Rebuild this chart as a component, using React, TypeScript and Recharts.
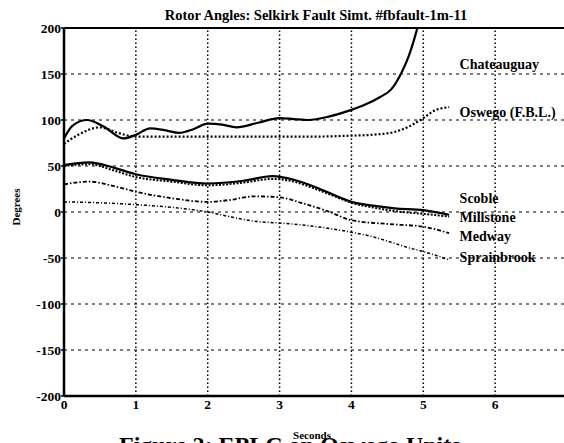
import React from 'react';
import { LineChart, Line, XAxis, YAxis, ReferenceLine, ReferenceDot } from 'recharts';

// time (s) / rotor angle (deg)
const chateauguayT = [0, 0.12, 0.32, 0.55, 0.83, 1.0, 1.2, 1.4, 1.6, 1.8, 2.0, 2.2, 2.4, 2.7, 3.0, 3.2, 3.4, 3.7, 4.0, 4.2, 4.4, 4.55, 4.7, 4.8, 4.9, 5.0];
const chateauguayV = [80, 94, 100, 93, 80, 84, 91, 89, 86, 90, 96, 95, 92, 97, 102, 101, 100, 104, 111, 117, 125, 133, 152, 170, 195, 225];

const oswegoT = [0, 0.2, 0.5, 0.75, 1.0, 1.5, 2.0, 2.5, 3.0, 3.5, 4.0, 4.3, 4.6, 4.8, 5.0, 5.15, 5.36];
const oswegoV = [74, 84, 92, 86, 82, 82, 82, 82, 82, 82, 83, 84, 87, 93, 102, 110, 114];

const scobleT = [0, 0.35, 0.7, 1.0, 1.5, 2.0, 2.5, 2.9, 3.2, 3.5, 3.8, 4.0, 4.3, 4.6, 5.0, 5.36];
const scobleV = [51, 54, 48, 41, 35, 31, 34, 39, 35, 27, 17, 11, 7, 4, 2, -3];

const millstoneT = [0, 0.35, 0.7, 1.0, 1.5, 2.0, 2.5, 2.9, 3.2, 3.5, 3.8, 4.0, 4.3, 4.6, 5.0, 5.36];
const millstoneV = [50, 52, 45, 38, 33, 29, 32, 36, 33, 25, 16, 10, 5, 1, -2, -5];

const medwayT = [0, 0.35, 0.7, 1.0, 1.5, 2.0, 2.3, 2.65, 3.0, 3.3, 3.7, 4.0, 4.5, 5.0, 5.36];
const medwayV = [30, 33, 28, 22, 15, 11, 13, 17, 16, 10, 0, -9, -13, -16, -23];

const sprainbrookT = [0, 0.5, 1.0, 1.5, 2.0, 2.3, 2.65, 3.0, 3.3, 3.7, 4.0, 4.3, 4.56, 4.8, 5.0, 5.36];
const sprainbrookV = [11, 10, 8, 5, 0, -5, -10, -12, -14, -18, -22, -27, -33, -39, -43, -52];

const xTicks = [0, 1, 2, 3, 4, 5, 6, 7];
const yTicks = [200, 150, 100, 50, 0, -50, -100, -150, -200];

// label name and the angle it sits at, right of the curve ends
const labelNames = ['Chateauguay', 'Oswego (F.B.L.)', 'Scoble', 'Millstone', 'Medway', 'Sprainbrook'];
const labelY = [161, 109, 15, -6, -26, -49];
const labelX = 5.45;

const toPoints = (t: number[], v: number[]) => t.map((x, i) => ({ t: x, v: v[i] }));

const serif = '"Liberation Serif", "DejaVu Serif", serif';

const App = () => {
  const series = [
    { key: 'chat', data: toPoints(chateauguayT, chateauguayV), dash: undefined, w: 2.2 },
    { key: 'osw', data: toPoints(oswegoT, oswegoV), dash: '2 2', w: 2.2 },
    { key: 'scob', data: toPoints(scobleT, scobleV), dash: undefined, w: 2.2 },
    { key: 'mill', data: toPoints(millstoneT, millstoneV), dash: '2 1.5', w: 2 },
    { key: 'med', data: toPoints(medwayT, medwayV), dash: '4 2 1.5 2', w: 1.8 },
    { key: 'spr', data: toPoints(sprainbrookT, sprainbrookV), dash: '3 2 1 2', w: 1.5 },
  ];

  return (
    <div style={{ position: 'fixed', left: 0, top: 0, width: 564, height: 443, overflow: 'hidden', background: '#fff' }}>
      <LineChart width={580} height={443} margin={{ top: 28, right: 13, bottom: 17, left: 4 }}>
        <XAxis
          type="number"
          dataKey="t"
          domain={[0, 7]}
          ticks={xTicks}
          height={30}
          tickSize={0}
          tickMargin={3}
          axisLine={{ stroke: '#000', strokeWidth: 2.5 }}
          tick={{ fontSize: 13.5, fontWeight: 'bold', fill: '#000', fontFamily: serif }}
        />
        <YAxis
          type="number"
          domain={[-200, 200]}
          ticks={yTicks}
          allowDataOverflow
          width={60}
          tickSize={3}
          tickMargin={0}
          tickLine={{ stroke: '#000', strokeWidth: 1.5 }}
          axisLine={{ stroke: '#000', strokeWidth: 2.5 }}
          tick={{ fontSize: 13.5, fontWeight: 'bold', fill: '#000', fontFamily: serif }}
        />
        {yTicks.slice(1, -1).map((y) => (
          <ReferenceLine key={'h' + y} y={y} stroke="#000" strokeWidth={1} strokeDasharray="3 4" />
        ))}
        {xTicks.slice(1).map((x) => (
          <ReferenceLine key={'v' + x} x={x} stroke="#000" strokeWidth={1.5} strokeDasharray="1.5 2.5" />
        ))}
        <ReferenceLine y={200} stroke="#000" strokeWidth={2} />
        {series.map((s) => (
          <Line
            key={s.key}
            data={s.data}
            dataKey="v"
            type="monotone"
            stroke="#000"
            strokeWidth={s.w}
            strokeDasharray={s.dash}
            dot={false}
            isAnimationActive={false}
          />
        ))}
        {labelNames.map((name, i) => (
          <ReferenceDot
            key={name}
            x={labelX}
            y={labelY[i]}
            r={0}
            stroke="none"
            label={{ value: name, position: 'right', offset: 4, fontSize: 14, fontWeight: 'bold', fill: '#000', fontFamily: serif }}
          />
        ))}
      </LineChart>
      <svg width={564} height={443} style={{ position: 'absolute', left: 0, top: 0, pointerEvents: 'none' }}>
        <text x={316} y={20} textAnchor="middle" fontSize={14.5} fontWeight="bold" fontFamily={serif}>
          Rotor Angles: Selkirk Fault Simt. #fbfault-1m-11
        </text>
        <text x={16} y={207} textAnchor="middle" dominantBaseline="central" fontSize={11} fontWeight="bold" fontFamily={serif} transform="rotate(-90 16 207)">
          Degrees
        </text>
        <text x={119} y={453} fontSize={24} fontWeight="bold" fontFamily={serif}>
          Figure 2: EPLC on Oswego Units
        </text>
        <text x={312} y={439} textAnchor="middle" fontSize={11} fontWeight="bold" fontFamily={serif}>
          Seconds
        </text>
      </svg>
    </div>
  );
};

export default App;
